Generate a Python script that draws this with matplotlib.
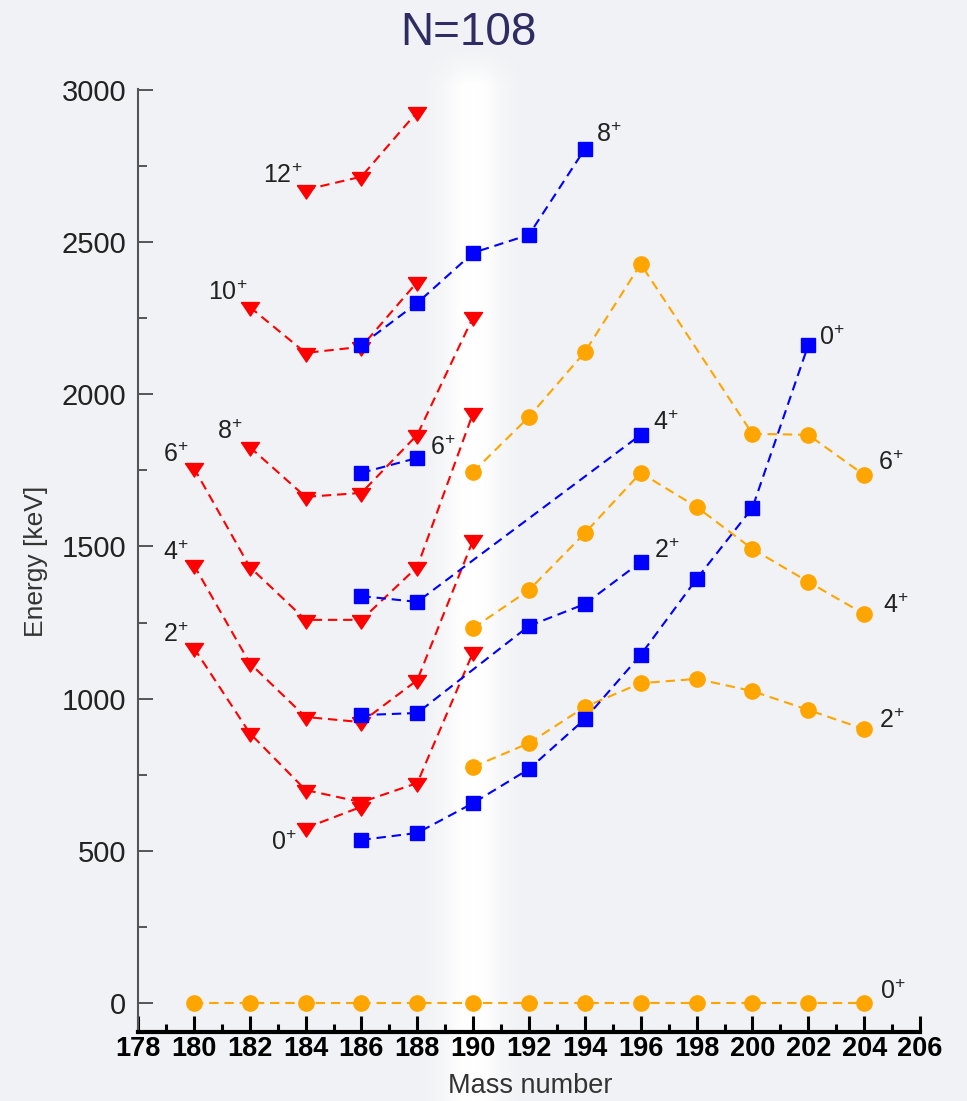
import numpy as np
import matplotlib
matplotlib.use("Agg")
import matplotlib.pyplot as plt
from matplotlib.ticker import MultipleLocator

plt.rcParams['font.family'] = ['Liberation Sans', 'DejaVu Sans']
plt.rcParams['mathtext.fontset'] = 'custom'
plt.rcParams['mathtext.rm'] = 'Liberation Sans'

# --- data: level energies (keV) vs mass number ---
# red chain (triangles)
red_0_a = [184, 186]
red_0_e = [575, 645]
red_2_a = [180, 182, 184, 186, 188, 190]
red_2_e = [1167, 887, 700, 660, 723, 1153]
red_4_a = [180, 182, 184, 186, 188, 190]
red_4_e = [1439, 1117, 940, 923, 1061, 1521]
red_6_a = [180, 182, 184, 186, 188, 190]
red_6_e = [1758, 1433, 1259, 1259, 1433, 1939]
red_8_a = [182, 184, 186, 188, 190]
red_8_e = [1827, 1663, 1676, 1867, 2254]
red_10_a = [182, 184, 186, 188]
red_10_e = [2287, 2136, 2156, 2369]
red_12_a = [184, 186, 188]
red_12_e = [2672, 2715, 2928]

# blue chain (squares)
blue_0_a = [186, 188, 190, 192, 194, 196, 198, 200, 202]
blue_0_e = [536, 559, 657, 769, 933, 1144, 1393, 1627, 2162]
blue_2_a = [186, 188, 192, 194, 196]
blue_2_e = [946, 953, 1239, 1311, 1449]
blue_4_a = [186, 188, 196]
blue_4_e = [1337, 1318, 1867]
blue_6_a = [186, 188]
blue_6_e = [1742, 1791]
blue_8_a = [186, 188, 190, 192, 194]
blue_8_e = [2162, 2300, 2465, 2524, 2806]

# orange chain (circles)
orange_0_a = [180, 182, 184, 186, 188, 190, 192, 194, 196, 198, 200, 202, 204]
orange_0_e = [0, 0, 0, 0, 0, 0, 0, 0, 0, 0, 0, 0, 0]
orange_2_a = [190, 192, 194, 196, 198, 200, 202, 204]
orange_2_e = [776, 854, 973, 1051, 1065, 1025, 963, 900]
orange_4_a = [190, 192, 194, 196, 198, 200, 202, 204]
orange_4_e = [1232, 1357, 1544, 1742, 1630, 1492, 1384, 1278]
orange_6_a = [190, 192, 194, 196, 200, 202, 204]
orange_6_e = [1745, 1926, 2139, 2428, 1870, 1867, 1735]

W, H = 967, 1101
fig = plt.figure(figsize=(W / 100, H / 100), dpi=100)
bg = '#f1f2f5'
fig.patch.set_facecolor(bg)

# soft white glow band behind A=190
bax = fig.add_axes([0, 0, 1, 1], zorder=0)
bax.set_axis_off()
xx = np.arange(W)[None, :]
yy = np.arange(H)[:, None]
dx = xx - 472
ax_prof = 0.5 * np.exp(-(dx / 40.0) ** 4) + 0.5 * np.exp(-(dx / 21.0) ** 4)
ay_prof = np.clip((yy - 45) / 40.0, 0, 1) ** 1.3
alpha = np.clip(ax_prof * ay_prof, 0, 1)
rgba = np.ones((H, W, 4))
rgba[..., 3] = alpha
bax.imshow(rgba, extent=[0, W, H, 0], aspect='auto', interpolation='bilinear')
bax.set_xlim(0, W)
bax.set_ylim(H, 0)

ax = fig.add_axes([138 / W, 1 - 1032 / H, (920 - 138) / W, (1032 - 89) / H], zorder=1)
ax.patch.set_alpha(0)

dash = (0, (4.5, 2.8))
RED, BLUE, ORANGE = '#ff0000', '#0000ff', '#ffa500'
tri = [(-1.0, 0.55), (1.0, 0.55), (0.0, -0.95), (-1.0, 0.55)]

red_series = [(red_0_a, red_0_e), (red_2_a, red_2_e), (red_4_a, red_4_e),
              (red_6_a, red_6_e), (red_8_a, red_8_e), (red_10_a, red_10_e),
              (red_12_a, red_12_e)]
orange_series = [(orange_0_a, orange_0_e), (orange_2_a, orange_2_e),
                 (orange_4_a, orange_4_e), (orange_6_a, orange_6_e)]
blue_series = [(blue_0_a, blue_0_e), (blue_2_a, blue_2_e), (blue_4_a, blue_4_e),
               (blue_6_a, blue_6_e), (blue_8_a, blue_8_e)]

for a, e in red_series:
    ax.plot(a, e, linestyle=dash, color=RED, lw=1.5, marker=tri, ms=13,
            mec=RED, mfc=RED, clip_on=False)
for a, e in orange_series:
    ax.plot(a, e, linestyle=dash, color=ORANGE, lw=1.5, marker='o', ms=11,
            mec=ORANGE, mfc=ORANGE, clip_on=False)
for a, e in blue_series:
    ax.plot(a, e, linestyle=dash, color=BLUE, lw=1.5, marker='s', ms=10.5,
            mec=BLUE, mfc=BLUE, clip_on=False)

# spin labels: offsets in px from the series end point
def spin(a, e, txt, ox, oy, ha):
    ax.annotate(r'$\mathregular{%s^{+}}$' % txt, (a, e), xytext=(ox * 0.72, oy * 0.72),
                textcoords='offset points', ha=ha, va='baseline',
                fontsize=18, color='#222222')

spin(red_12_a[0], red_12_e[0], '12', -3, 7, 'right')
spin(red_10_a[0], red_10_e[0], '10', -2, 7, 'right')
spin(red_8_a[0], red_8_e[0], '8', -7, 8, 'right')
spin(red_6_a[0], red_6_e[0], '6', -5, 6, 'right')
spin(red_4_a[0], red_4_e[0], '4', -5, 5, 'right')
spin(red_2_a[0], red_2_e[0], '2', -5, 6, 'right')
spin(red_0_a[0], red_0_e[0], '0', -9, -22, 'right')
spin(blue_6_a[-1], blue_6_e[-1], '6', 13, 3, 'left')
spin(blue_8_a[-1], blue_8_e[-1], '8', 11, 7, 'left')
spin(blue_0_a[-1], blue_0_e[-1], '0', 11, 0, 'left')
spin(blue_4_a[-1], blue_4_e[-1], '4', 12, 5, 'left')
spin(blue_2_a[-1], blue_2_e[-1], '2', 13, 4, 'left')
spin(orange_6_a[-1], orange_6_e[-1], '6', 14, 5, 'left')
spin(orange_4_a[-1], orange_4_e[-1], '4', 19, 1, 'left')
spin(orange_2_a[-1], orange_2_e[-1], '2', 15, 1, 'left')
spin(orange_0_a[-1], orange_0_e[-1], '0', 16, 4, 'left')

ax.set_xlim(178, 206)
ax.set_ylim(-95, 3003)
ax.xaxis.set_major_locator(MultipleLocator(2))
ax.xaxis.set_minor_locator(MultipleLocator(1))
ax.yaxis.set_major_locator(MultipleLocator(500))
ax.yaxis.set_minor_locator(MultipleLocator(250))

for s in ['top', 'right']:
    ax.spines[s].set_visible(False)
ax.spines['left'].set_color('#555555')
ax.spines['left'].set_linewidth(1.5)
ax.spines['left'].set_bounds(-95, 3003)
ax.spines['bottom'].set_color('black')
ax.spines['bottom'].set_linewidth(3)

ax.tick_params(axis='y', which='major', direction='in', length=10.8, width=1.4,
               color='#555555', labelsize=21, labelcolor='#222222', pad=8.5)
ax.tick_params(axis='y', which='minor', direction='in', length=6.5, width=1.4,
               color='#555555')
ax.tick_params(axis='x', which='major', direction='in', length=11.5, width=2.2,
               color='black', labelsize=19.5, pad=3)
ax.tick_params(axis='x', which='minor', direction='in', length=5.8, width=2.2,
               color='black')
for lab in ax.get_xticklabels():
    lab.set_fontweight('bold')

fig.text(468 / W, 1 - 45 / H, 'N=108', ha='center', va='baseline',
         fontsize=33, color='#2e2c62')
fig.text(530 / W, 1 - 1093 / H, 'Mass number', ha='center', va='baseline',
         fontsize=19.5, color='#333333')
fig.text(36 / W, 1 - 561 / H, 'Energy [keV]', ha='center', va='center',
         rotation=90, fontsize=19, color='#333333')

fig.savefig('out.png', dpi=100, facecolor=bg)
